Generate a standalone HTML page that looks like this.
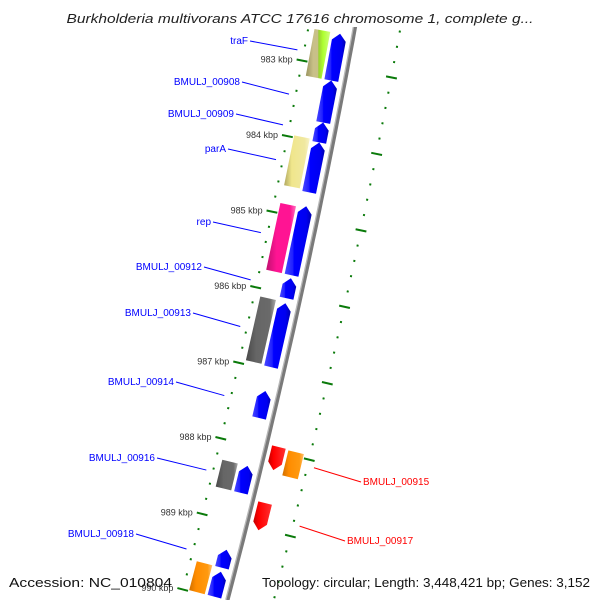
<!DOCTYPE html>
<html><head><meta charset="utf-8"><style>
html,body{margin:0;padding:0;background:#fff;width:600px;height:600px;overflow:hidden}
svg{display:block;overflow:hidden}
svg text{font-family:"Liberation Sans",sans-serif}
</style></head><body>
<svg id="chart" width="600" height="600" viewBox="0 0 600 600" xmlns="http://www.w3.org/2000/svg">
<defs>
<linearGradient id="g-blue" x1="0" x2="1" y1="0" y2="0"><stop offset="0" stop-color="#4848ff"/><stop offset="0.3" stop-color="#2020ff"/><stop offset="0.35" stop-color="#0000ff"/><stop offset="0.8" stop-color="#0000f0"/><stop offset="1" stop-color="#0000b0"/></linearGradient>
<linearGradient id="g-red" x1="0" x2="1"><stop offset="0" stop-color="#c00000"/><stop offset="0.3" stop-color="#ff0000"/><stop offset="1" stop-color="#ff3030"/></linearGradient>
<linearGradient id="g-pink" x1="0" x2="1"><stop offset="0" stop-color="#c01070"/><stop offset="0.35" stop-color="#ff1493"/><stop offset="0.8" stop-color="#ff1493"/><stop offset="1" stop-color="#ff70c0"/></linearGradient>
<linearGradient id="g-gray" x1="0" x2="1"><stop offset="0" stop-color="#4a4a4a"/><stop offset="0.35" stop-color="#666"/><stop offset="0.8" stop-color="#6a6a6a"/><stop offset="1" stop-color="#aaa"/></linearGradient>
<linearGradient id="g-yellow" x1="0" x2="1"><stop offset="0" stop-color="#b0a860"/><stop offset="0.3" stop-color="#f0e68c"/><stop offset="0.8" stop-color="#f0e8a0"/><stop offset="1" stop-color="#f8f2c8"/></linearGradient>
<linearGradient id="g-trf" x1="0" x2="1"><stop offset="0" stop-color="#9a9460"/><stop offset="0.3" stop-color="#c8c088"/><stop offset="0.5" stop-color="#c8c088"/><stop offset="0.52" stop-color="#9acd32"/><stop offset="0.7" stop-color="#adff2f"/><stop offset="1" stop-color="#d0ff80"/></linearGradient>
<linearGradient id="g-orange" x1="0" x2="1"><stop offset="0" stop-color="#d07000"/><stop offset="0.3" stop-color="#ff8c00"/><stop offset="0.8" stop-color="#ff9a10"/><stop offset="1" stop-color="#ffc070"/></linearGradient>
<clipPath id="clip"><rect x="0" y="27" width="600" height="573"/></clipPath>
<clipPath id="clipall"><rect x="0" y="0" width="600" height="600"/></clipPath>
</defs>
<g clip-path="url(#clipall)">
<text x="300" y="23" text-anchor="middle" font-size="13" font-style="italic" fill="#222" textLength="467" lengthAdjust="spacingAndGlyphs">Burkholderia multivorans ATCC 17616 chromosome 1, complete g...</text>
<g id="plot" clip-path="url(#clip)"></g>
<g id="labels"></g>
<text x="9" y="587" font-size="13" fill="#111" textLength="163" lengthAdjust="spacingAndGlyphs">Accession: NC_010804</text>
<text x="262" y="587" font-size="13" fill="#111" textLength="328" lengthAdjust="spacingAndGlyphs">Topology: circular; Length: 3,448,421 bp; Genes: 3,152</text>
</g>
</svg>
<script>
// ---- data ----
const innerStart  = [982.566, 983.184, 983.737, 984.000, 984.842, 985.789, 986.118, 987.276, 988.263, 989.368, 989.658, 987.934, 988.671];
const innerEnd    = [983.184, 983.737, 984.000, 984.658, 985.750, 986.053, 986.961, 987.632, 988.618, 989.605, 990.250, 988.237, 989.026];
const innerStrand = [1,1,1,1,1,1,1,1,1,1,1,-1,-1];
const outerStart  = [982.566, 983.974, 984.868, 986.105, 988.263, 989.605, 987.947];
const outerEnd    = [983.184, 984.632, 985.750, 986.947, 988.618, 990.197, 988.276];
const outerStrand = [1,1,1,1,1,1,-1];
const outerType   = ["traF","yellow","pink","gray","gray","orange","orange"];
const tickStart = 982.4, tickEnd = 990.4;
const labelNames = ["traF","BMULJ_00908","BMULJ_00909","parA","rep","BMULJ_00912","BMULJ_00913","BMULJ_00914","BMULJ_00916","BMULJ_00918"];
const labelGene  = [0,1,2,3,4,5,6,7,8,9];
const redLabelNames = ["BMULJ_00915","BMULJ_00917"];
const redLabelGene  = [11,12];

// ---- layout ----
const typeFill = {traF:"url(#g-trf)",yellow:"url(#g-yellow)",pink:"url(#g-pink)",gray:"url(#g-gray)",orange:"url(#g-orange)"};
const labelX = [248,240,234,226,211,202,191,174,155,134];
const labelY = [40,81,113,148,221,266,312,381,457,533];
const redLabelX = [363,347];
const redLabelY = [481,540];
const NS="http://www.w3.org/2000/svg";
const plot=document.getElementById('plot'), labels=document.getElementById('labels');
const B=-0.2034, C=-6.95e-5;
function yb(k){return 69+(k-983)*76;}
function x0(y){return 354+B*(y-30)+C*(y-30)*(y-320);}
function P(y,u){const d=B+C*(2*y-350);const n=Math.sqrt(1+d*d);return [x0(y)+u/n, y-u*d/n];}
function poly(pts){return pts.map(p=>p[0].toFixed(1)+","+p[1].toFixed(1)).join(" ");}
function mk(tag,attrs){const e=document.createElementNS(NS,tag);for(const k in attrs)e.setAttribute(k,attrs[k]);return e;}

// ticks
for(let i=0;;i++){
  const k=tickStart+i*0.2; if(k>tickEnd+1e-6)break;
  const y=yb(k); const major=Math.abs(k-Math.round(k))<1e-6;
  for(const s of [-1,1]){
    const a=P(y,s*(major?40:44.3)), b=P(y,s*(major?51:46.3));
    const t=mk('line',{x1:a[0],y1:a[1],x2:b[0],y2:b[1],stroke:'#0a7a0a','stroke-width':2});
    
    
    plot.appendChild(t);
  }
  if(major){
    const p=P(y,-52);
    const tx=mk('text',{x:(p[0]-3).toFixed(1),y:(p[1]+3).toFixed(1),'text-anchor':'end','font-size':'9',fill:'#333'});
    tx.textContent=Math.round(k)+" kbp";
    
    
    plot.appendChild(tx);
  }
}
// backbone
(function(){
  const pts=[],pts2=[];
  for(let y=20;y<=600;y+=10){pts.push(P(y,0.5));pts2.push(P(y,-1.2));}
  const l=mk('polyline',{points:poly(pts),fill:'none',stroke:'#7a7a7a','stroke-width':4});
  
  
  plot.appendChild(l);
  const l2=mk('polyline',{points:poly(pts2),fill:'none',stroke:'#b8b8b8','stroke-width':1.3});
  
  
  plot.appendChild(l2);
})();
function shape(s,e,strand,u1,u2,arrow){
  const y1=yb(s),y2=Math.min(yb(e),600),um=(u1+u2)/2,h=Math.min(7,(yb(e)-y1)/2);
  if(!arrow) return [P(y1,u1),P(y1,u2),P(y2,u2),P(y2,u1)];
  if(strand>0) return [P(y1,um),P(y1+h,u2),P(y2,u2),P(y2,u1),P(y1+h,u1)];
  return [P(y1,u1),P(y1,u2),P(y2-h,u2),P(y2,um),P(y2-h,u1)];
}
// outer features
for(let i=0;i<outerStart.length;i++){
  const s=outerStrand[i]; const u1=s>0?-39:23,u2=s>0?-23:39;
  const g=mk('polygon',{points:poly(shape(outerStart[i],outerEnd[i],s,u1,u2,false)),fill:typeFill[outerType[i]]});
  
  
  plot.appendChild(g);
}
// inner genes
for(let i=0;i<innerStart.length;i++){
  const s=innerStrand[i]; const u1=s>0?-20:6,u2=s>0?-6:20;
  const g=mk('polygon',{points:poly(shape(innerStart[i],innerEnd[i],s,u1,u2,true)),fill:s>0?'url(#g-blue)':'url(#g-red)'});
  
  
  plot.appendChild(g);
}
// labels
function addLabel(name,gi,x,y,left,color){
  const m=(yb(innerStart[gi])+yb(innerEnd[gi]))/2;
  const p=P(m,left?-52:52);
  const ln=mk('line',{x1:left?x+2:x-2,y1:y+1,x2:p[0],y2:p[1],stroke:color,'stroke-width':1});
  
  
  labels.appendChild(ln);
  const t=mk('text',{x:x,y:y+4,'text-anchor':left?'end':'start','font-size':'10',fill:color});
  t.textContent=name;
  
  
  labels.appendChild(t);
}
for(let i=0;i<labelNames.length;i++) addLabel(labelNames[i],labelGene[i],labelX[i],labelY[i],true,'#0000ff');
for(let i=0;i<redLabelNames.length;i++) addLabel(redLabelNames[i],redLabelGene[i],redLabelX[i],redLabelY[i],false,'#ff0000');
</script>
</body></html>
